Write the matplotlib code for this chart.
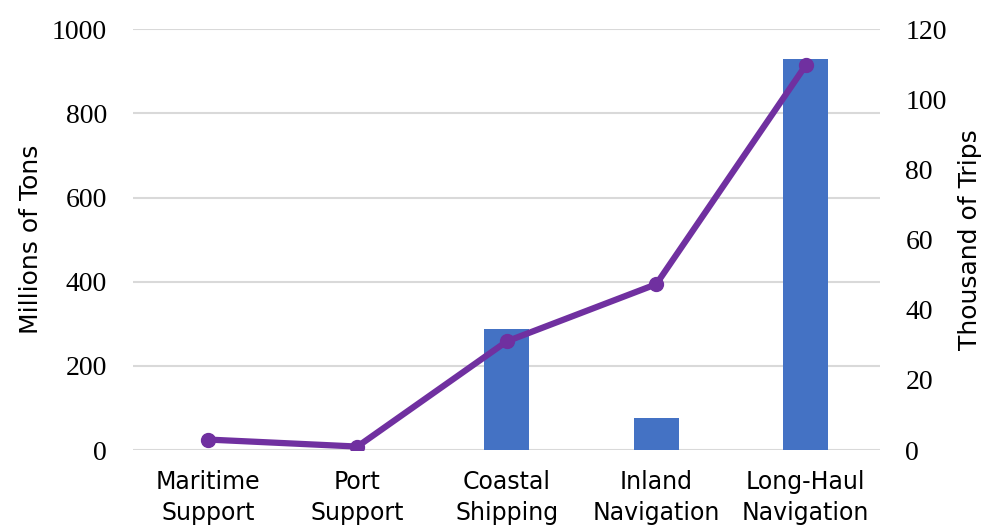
import matplotlib
matplotlib.use('Agg')
import matplotlib.pyplot as plt
import numpy as np

categories = ["Maritime\nSupport", "Port\nSupport", "Coastal\nShipping",
              "Inland\nNavigation", "Long-Haul\nNavigation"]
tons = [0, 0, 287, 76, 929]          # millions of tons (bars, left axis)
trips = [3, 1, 31, 47.3, 109.7]      # thousand of trips (line, right axis)

sans = ['DejaVu Sans']
serif = ['Liberation Serif', 'DejaVu Serif']

fig = plt.figure(figsize=(9.87, 5.32), dpi=100)
ax = fig.add_axes([0.135, 0.154, 0.757, 0.791])
x = np.arange(len(categories))

ax.bar(x, tons, width=0.3, color='#4472C4', zorder=2)
ax.set_xlim(-0.5, len(categories) - 0.5)
ax.set_ylim(0, 1000)
ax.set_yticks(range(0, 1001, 200))
ax.grid(axis='y', color='#d9d9d9', linewidth=1.5, zorder=0)
ax.set_axisbelow(True)
for s in ax.spines.values():
    s.set_visible(False)
ax.tick_params(axis='both', length=0)
ax.tick_params(axis='y', pad=19)
ax.tick_params(axis='x', pad=14)
ax.set_xticks(x)
ax.set_xticklabels(categories, fontsize=17, family=sans, linespacing=1.4)
for t in ax.get_yticklabels():
    t.set_fontsize(20)
    t.set_family(serif)
ax.set_ylabel("Millions of Tons", fontsize=18, family=sans, labelpad=6)

ax2 = ax.twinx()
ax2.plot(x, trips, color='#7030A0', linewidth=4.5, marker='o', markersize=10,
         solid_capstyle='round', zorder=3)
ax2.set_ylim(0, 120)
ax2.set_yticks(range(0, 121, 20))
for s in ax2.spines.values():
    s.set_visible(False)
ax2.tick_params(axis='y', length=0, pad=18)
for t in ax2.get_yticklabels():
    t.set_fontsize(20)
    t.set_family(serif)
ax2.set_ylabel("Thousand of Trips", fontsize=18, family=sans, labelpad=8)

fig.savefig("out.png", dpi=100)
